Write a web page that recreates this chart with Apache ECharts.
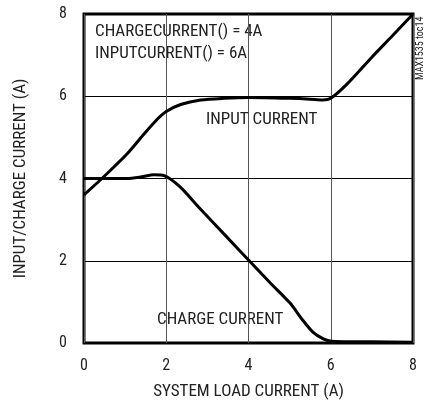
<!DOCTYPE html>
<html><head><meta charset="utf-8">
<script src="https://cdn.jsdelivr.net/npm/echarts@6/dist/echarts.min.js"></script>
<style>html,body{margin:0;padding:0;background:#fff}#c{width:433px;height:405px}</style>
</head><body><div id="c"></div>
<script>
var xTicks = [0, 2, 4, 6, 8];
var yTicks = [0, 2, 4, 6, 8];
var inputX = [0, 0.5, 1.05, 1.46, 1.78, 2.0, 2.35, 2.84, 3.4, 4.0, 5.0, 5.5, 5.8, 6.0, 6.4, 7.0, 7.5, 8];
var inputY = [3.6, 4.06, 4.6, 5.08, 5.44, 5.63, 5.8, 5.91, 5.95, 5.97, 5.95, 5.93, 5.91, 5.95, 6.3, 6.95, 7.47, 8.0];
var chargeX = [0, 0.5, 1.05, 1.4, 1.7, 1.95, 2.33, 2.82, 3.47, 4.0, 4.52, 5.01, 5.33, 5.58, 5.82, 6.02, 6.5, 7, 8];
var chargeY = [4.0, 4.0, 4.0, 4.04, 4.09, 4.07, 3.8, 3.27, 2.58, 2.02, 1.47, 0.97, 0.54, 0.25, 0.1, 0.04, 0.03, 0.03, 0.02];
function pairs(xs, ys){ return xs.map(function(x,i){return [x, ys[i]];}); }
var FONT = '"Roboto Condensed", "Liberation Sans Narrow", "DejaVu Sans Condensed", sans-serif';
var chart = echarts.init(document.getElementById('c'), null, {renderer:'canvas'});
chart.setOption({
  animation: false,
  grid: {left: 84, right: 20, top: 14, bottom: 62, show: true, borderColor: '#000', borderWidth: 3, backgroundColor: 'transparent'},
  xAxis: {
    type: 'value', min: 0, max: 8, interval: 2,
    name: 'SYSTEM LOAD CURRENT (A)', nameLocation: 'middle', nameGap: 40,
    nameTextStyle: {fontFamily: FONT, fontSize: 17, color: '#222'},
    axisLine: {show: false}, axisTick: {show: false},
    axisLabel: {fontFamily: FONT, fontSize: 16, color: '#222', margin: 15},
    splitLine: {show: true, lineStyle: {color: '#555', width: 1}}
  },
  yAxis: {
    type: 'value', min: 0, max: 8, interval: 2,
    name: 'INPUT/CHARGE CURRENT (A)', nameLocation: 'middle', nameGap: 55, nameRotate: 90,
    nameTextStyle: {fontFamily: FONT, fontSize: 17, color: '#222'},
    axisLine: {show: false}, axisTick: {show: false},
    axisLabel: {fontFamily: FONT, fontSize: 16, color: '#222', margin: 17},
    splitLine: {show: true, lineStyle: {color: '#000', width: 1}}
  },
  series: [
    {type: 'line', data: pairs(inputX, inputY), smooth: 0.25, showSymbol: false, lineStyle: {color: '#000', width: 3}},
    {type: 'line', data: pairs(chargeX, chargeY), smooth: 0.25, showSymbol: false, lineStyle: {color: '#000', width: 3}}
  ],
  graphic: [
    {type: 'text', x: 95, y: 32, style: {text: 'CHARGECURRENT() = 4A', font: '17px ' + FONT, fill: '#222', verticalAlign: 'middle'}},
    {type: 'text', x: 95, y: 54, style: {text: 'INPUTCURRENT() = 6A', font: '17px ' + FONT, fill: '#222', verticalAlign: 'middle'}},
    {type: 'text', x: 206, y: 120, style: {text: 'INPUT CURRENT', font: '17px ' + FONT, fill: '#222', verticalAlign: 'middle'}},
    {type: 'text', x: 157, y: 320, style: {text: 'CHARGE CURRENT', font: '17px ' + FONT, fill: '#222', verticalAlign: 'middle'}},
    {type: 'text', x: 420, y: 80, rotation: Math.PI/2, style: {text: 'MAX1535 toc14', font: '10px ' + FONT, fill: '#222', align: 'left', verticalAlign: 'middle'}}
  ]
});
</script></body></html>
